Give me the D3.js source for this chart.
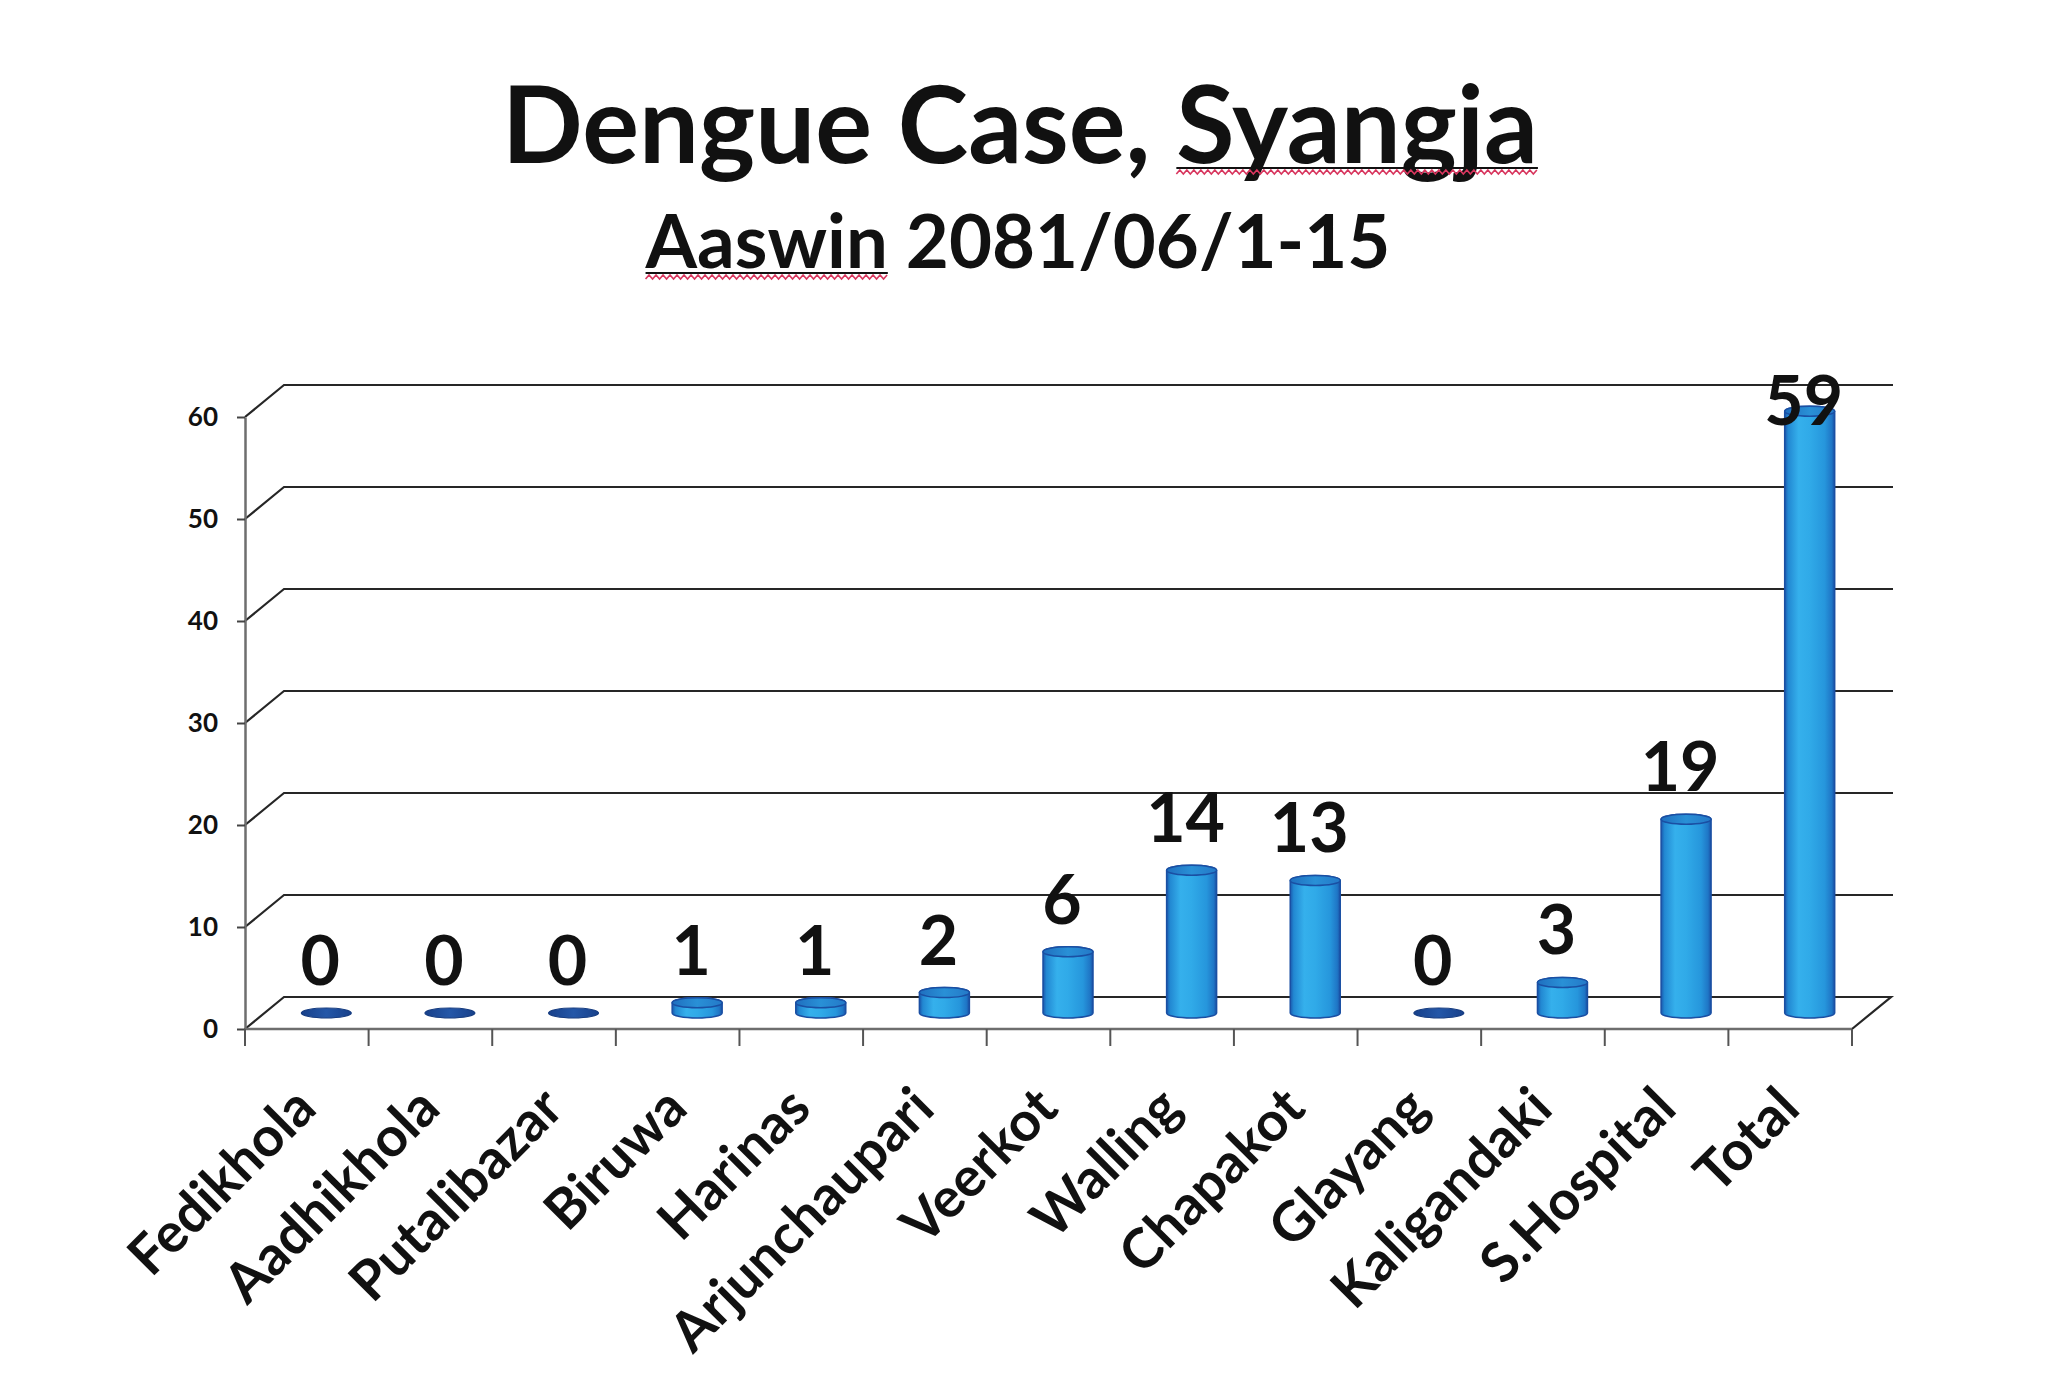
<!DOCTYPE html>
<html><head><meta charset="utf-8">
<script src="https://cdn.jsdelivr.net/npm/d3@7"></script>
<style>html,body{margin:0;padding:0;background:#fff}svg{display:block}</style>
</head><body><svg id="chart" width="2048" height="1383"></svg>
<script>
const categories = ["Fedikhola","Aadhikhola","Putalibazar","Biruwa","Harinas","Arjunchaupari","Veerkot","Walling","Chapakot","Glayang","Kaligandaki","S.Hospital","Total"];
const cases = [0,0,0,1,1,2,6,14,13,0,3,19,59];
const yTicks = [0,10,20,30,40,50,60];
const titleText = "Dengue Case, Syangja";
const subtitleText = "Aaswin 2081/06/1-15";

const W = 2048, H = 1383;
const FONT = "Lato, 'Open Sans', 'DejaVu Sans', sans-serif";
const svg = d3.select("#chart");
svg.append("rect").attr("width", W).attr("height", H).attr("fill", "#fff");

const frontX0 = 245, frontX1 = 1852;
const dx = 39, dy = 32;
const x = d3.scaleBand().domain(categories).range([frontX0, frontX1]).padding(0);
const yFront = d3.scaleLinear().domain([0, 60]).range([1029, 417]);
const yBack = v => yFront(v) - dy;
const yMid = v => yFront(v) - dy / 2;

// gradient
const defs = svg.append("defs");
const g1 = defs.append("linearGradient").attr("id", "cyl").attr("x1", 0).attr("x2", 1).attr("y1", 0).attr("y2", 0);
[[0,"#1a58ad"],[0.07,"#2288d2"],[0.28,"#35b0ec"],[0.5,"#30aae8"],[0.8,"#2696dc"],[0.94,"#1f76c6"],[1,"#1a50a4"]]
  .forEach(([o,c]) => g1.append("stop").attr("offset", o).attr("stop-color", c));
const g2 = defs.append("linearGradient").attr("id", "cyltop").attr("x1", 0).attr("x2", 1).attr("y1", 0).attr("y2", 0);
[[0,"#1f6fbf"],[0.5,"#2990d6"],[1,"#2479c8"]].forEach(([o,c]) => g2.append("stop").attr("offset", o).attr("stop-color", c));
const g3 = defs.append("linearGradient").attr("id", "zero").attr("x1", 0).attr("x2", 1).attr("y1", 0).attr("y2", 0);
[[0,"#17408a"],[0.5,"#2457a8"],[1,"#17408a"]].forEach(([o,c]) => g3.append("stop").attr("offset", o).attr("stop-color", c));

// gridlines (back wall + side)
const grid = svg.append("g").attr("fill", "none").attr("stroke", "#262626").attr("stroke-width", 2.2);
yTicks.filter(t => t > 0).forEach(t => {
  grid.append("path").attr("d", `M${frontX0},${yFront(t)}L${frontX0 + dx},${yBack(t)}L${frontX1 + dx + 2},${yBack(t)}`);
});
// floor
grid.append("path").attr("d", `M${frontX0},${yFront(0)}L${frontX0 + dx},${yBack(0)}L${frontX1 + dx},${yBack(0)}L${frontX1},${yFront(0)}`);

// y axis
const yAxis = d3.axisLeft(yFront).tickValues(yTicks).tickSize(8).tickSizeOuter(0).tickPadding(19);
const ya = svg.append("g").attr("transform", `translate(${frontX0},0)`).call(yAxis);
ya.select(".domain").attr("stroke", "#6e6e6e").attr("stroke-width", 2.5);
ya.selectAll(".tick line").attr("stroke", "#444").attr("stroke-width", 2);
ya.selectAll(".tick text").attr("font-family", FONT).attr("font-weight", "bold").attr("font-size", 26).attr("fill", "#111");

// x axis line + boundary ticks
const xa = svg.append("g");
xa.append("line").attr("x1", frontX0).attr("x2", frontX1).attr("y1", yFront(0)).attr("y2", yFront(0))
  .attr("stroke", "#6e6e6e").attr("stroke-width", 2.5);
const bounds = categories.map(c => x(c)).concat([frontX1]);
xa.selectAll("line.b").data(bounds).enter().append("line").attr("class", "b")
  .attr("x1", d => d).attr("x2", d => d).attr("y1", yFront(0)).attr("y2", yFront(0) + 17)
  .attr("stroke", "#555").attr("stroke-width", 2);

// category labels via axis
const xAxis = d3.axisBottom(x).tickSize(0).tickSizeOuter(0);
const xl = svg.append("g").attr("transform", `translate(0,${yFront(0)})`).call(xAxis);
xl.select(".domain").remove();
xl.selectAll(".tick text")
  .attr("font-family", FONT).attr("font-weight", "bold").attr("font-size", 55).attr("fill", "#111")
  .attr("text-anchor", "end").attr("dy", 0).attr("y", 0)
  .attr("transform", "translate(12,82) rotate(-45)");

// bars
const rx = 25, ry = 5;
const data = categories.map((c, i) => ({c, v: cases[i]}));
const bars = svg.append("g");
data.forEach(d => {
  const cx = x(d.c) + x.bandwidth() / 2 + dx / 2;
  const yb = yMid(0), yt = yMid(d.v);
  if (d.v > 0) {
    bars.append("path")
      .attr("d", `M${cx - rx},${yb}L${cx - rx},${yt}A${rx},${ry} 0 0 1 ${cx + rx},${yt}L${cx + rx},${yb}A${rx},${ry} 0 0 1 ${cx - rx},${yb}Z`)
      .attr("fill", "url(#cyl)").attr("stroke", "#1a4fa3").attr("stroke-width", 1.5);
    bars.append("ellipse").attr("cx", cx).attr("cy", yt).attr("rx", rx).attr("ry", ry)
      .attr("fill", "url(#cyltop)").attr("stroke", "#1a4fa3").attr("stroke-width", 1.5);
  } else {
    bars.append("ellipse").attr("cx", cx).attr("cy", yb).attr("rx", rx).attr("ry", ry)
      .attr("fill", "url(#zero)").attr("stroke", "#163c80").attr("stroke-width", 1.2);
  }
});

// data labels
svg.append("g").selectAll("text").data(data).enter().append("text")
  .attr("x", d => x(d.c) + x.bandwidth() / 2 + dx / 2 - 6)
  .attr("y", d => Math.max(yMid(d.v) - 28, yBack(60) + 40))
  .attr("text-anchor", "middle").attr("font-family", FONT).attr("font-weight", "bold").attr("font-size", 68)
  .attr("fill", "#111").text(d => d.v);

// titles
function fitText(sel, target) {
  const w = sel.node().getComputedTextLength();
  const fs = parseFloat(sel.attr("font-size"));
  sel.attr("font-size", fs * target / w);
}
const title = svg.append("text").attr("x", 1020).attr("y", 163).attr("text-anchor", "middle")
  .attr("font-family", FONT).attr("font-weight", "bold").attr("font-size", 103).attr("fill", "#111").text(titleText);
fitText(title, 1036);
const sub = svg.append("text").attr("x", 1018).attr("y", 268).attr("text-anchor", "middle")
  .attr("font-family", FONT).attr("font-weight", "bold").attr("font-size", 72).attr("fill", "#111").text(subtitleText);
fitText(sub, 745);

function underline(sel, i0, i1, by) {
  const n = sel.node();
  const xs = n.getStartPositionOfChar(i0).x, xe = n.getEndPositionOfChar(i1).x;
  svg.append("line").attr("x1", xs).attr("x2", xe).attr("y1", by + 5).attr("y2", by + 5)
    .attr("stroke", "#111").attr("stroke-width", 2.2);
  const pts = d3.range(xs, xe, 3.5).map((px, k) => [px, by + 9 + (k % 2 ? -2 : 2)]);
  svg.append("path").attr("d", d3.line()(pts)).attr("fill", "none").attr("stroke", "#d8365e").attr("stroke-width", 1.6);
}
underline(title, titleText.indexOf("Syangja"), titleText.length - 1, 163);
underline(sub, 0, 5, 268);
</script></body></html>
